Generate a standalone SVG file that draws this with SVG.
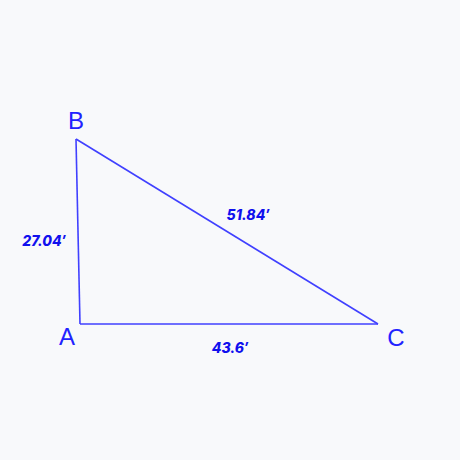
<svg xmlns="http://www.w3.org/2000/svg" width="460" height="460" viewBox="0 0 460 460">
<style>
.v{font-family:"Liberation Sans",Arial,sans-serif;font-size:24px;fill:#2222ff}
.m{font-family:Inter,"Liberation Sans",sans-serif;font-size:14px;font-weight:800;font-style:italic;fill:#1010ee}
.e{stroke:#4040ff;stroke-width:1.6;fill:none}
</style>
<rect width="460" height="460" fill="#f8f9fb"/>
<g id="edges">
<line class="e" x1="80" y1="324" x2="76" y2="139"/>
<line class="e" x1="76" y1="139" x2="378" y2="324"/>
<line class="e" x1="80" y1="324" x2="378" y2="324"/>
</g>
<g id="A"><text class="v" x="67" y="345" text-anchor="middle">A</text></g>
<g id="B"><text class="v" x="76" y="129" text-anchor="middle">B</text></g>
<g id="C"><text class="v" x="396" y="346" text-anchor="middle">C</text></g>
<g id="labels">
<text class="m" x="44" y="246" text-anchor="middle">27.04′</text>
<text class="m" x="248" y="220" text-anchor="middle">51.84′</text>
<text class="m" x="230" y="353" text-anchor="middle">43.6′</text>
</g>
</svg>
